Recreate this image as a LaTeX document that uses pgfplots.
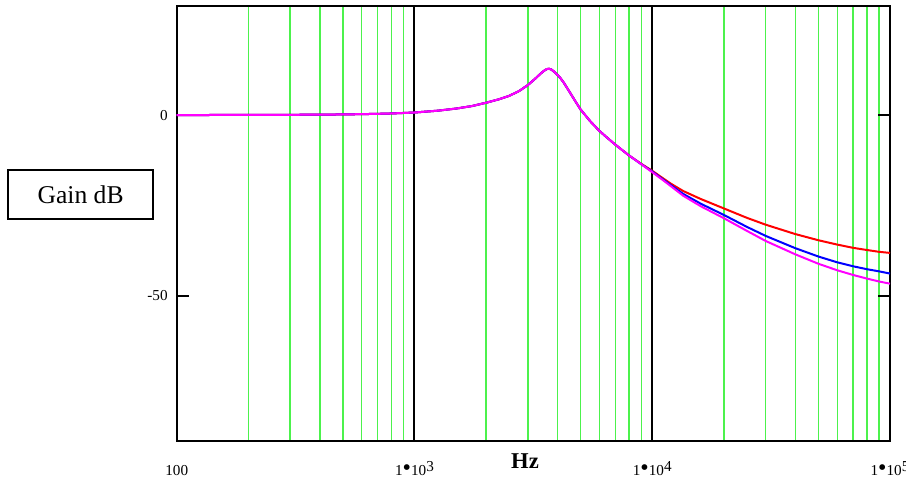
\documentclass[border=0pt]{standalone}
\usepackage{pgfplots}
\pgfplotsset{compat=1.18}
\usepackage{pgfplotstable}
\usepackage{fontspec}
\setmainfont{Liberation Serif}

\definecolor{gridgreen}{rgb}{0.3,0.95,0.3}
\definecolor{mag}{rgb}{1,0,1}

% f [Hz], gain [dB] for the three curves
\pgfplotstableread{
f      r      b      m
100    0      0      0
200    0.03   0.03   0.03
300    0.07   0.07   0.07
400    0.11   0.11   0.11
500    0.17   0.17   0.17
600    0.25   0.25   0.25
700    0.34   0.34   0.34
800    0.44   0.44   0.44
1000   0.7    0.7    0.7
1250   1.2    1.2    1.2
1500   1.8    1.8    1.8
1750   2.5    2.5    2.5
2000   3.4    3.4    3.4
2250   4.3    4.3    4.3
2500   5.3    5.3    5.3
2750   6.6    6.6    6.6
3000   8.3    8.3    8.3
3200   9.9    9.9    9.9
3400   11.5   11.5   11.5
3500   12.2   12.2   12.2
3600   12.7   12.7   12.7
3680   12.8   12.8   12.8
3760   12.6   12.6   12.6
3850   12.1   12.1   12.1
3950   11.4   11.4   11.4
4100   10.3   10.3   10.3
4250   8.9    8.9    8.9
4500   6.3    6.3    6.3
4750   3.8    3.8    3.8
5000   1.5    1.5    1.5
5500   -1.8   -1.8   -1.8
6000   -4.4   -4.4   -4.4
6500   -6.4   -6.4   -6.4
7000   -8.2   -8.2   -8.2
8000   -11.2  -11.2  -11.2
9000   -13.5  -13.6  -13.6
10000  -15.4  -15.6  -15.8
11000  -17.3  -17.6  -17.8
12000  -19.0  -19.4  -19.7
13500  -21.0  -21.8  -22.3
16000  -23.2  -24.5  -25.2
20000  -25.8  -27.6  -28.5
25000  -28.4  -30.9  -32.0
30000  -30.3  -33.4  -34.8
40000  -32.9  -36.8  -38.5
50000  -34.6  -39.1  -41.1
60000  -35.8  -40.7  -42.9
70000  -36.7  -41.8  -44.2
80000  -37.3  -42.6  -45.2
90000  -37.8  -43.2  -46.0
100000 -38.1  -43.8  -46.6
}\gain

\begin{document}
\begin{tikzpicture}
\begin{axis}[
    at={(0,0)}, anchor=south west,
    scale only axis,
    width=356.65pt, height=217.1pt,
    xmode=log, log basis x=10,
    xmin=100, xmax=100000,
    ymin=-90, ymax=30,
    xtick={100,1000,10000,100000},
    minor xtick={200,300,400,500,600,700,800,900,
                 2000,3000,4000,5000,6000,7000,8000,9000,
                 20000,30000,40000,50000,60000,70000,80000,90000},
    xticklabels={100,
        1{\large\textbullet}10\raisebox{0.6ex}{3},
        1{\large\textbullet}10\raisebox{0.6ex}{4},
        1{\large\textbullet}10\raisebox{0.6ex}{5}},
    ytick={-50,0},
    yticklabels={-50,0},
    xmajorgrids, xminorgrids,
    major x grid style={black, line width=1pt},
    minor x grid style={gridgreen, line width=0.7pt},
    x tick style={draw=none},
    minor x tick style={draw=none},
    y tick style={black, line width=0.8pt},
    major tick length=6pt,
    axis line style={line width=1pt},
    tick label style={font=\fontsize{7.6}{9}\selectfont},
    xticklabel style={anchor=base, yshift=-17.4pt},
    yticklabel style={xshift=-1pt},
]
\addplot[red, line width=1pt] table[x=f, y=r] {\gain};
\addplot[blue, line width=1pt] table[x=f, y=b] {\gain};
\addplot[mag, line width=1pt] table[x=f, y=m] {\gain};
\end{axis}
\node[draw, line width=0.8pt, minimum width=72.5pt, minimum height=24.5pt,
      font=\fontsize{12.8}{15}\selectfont]
  at ([shift={(-48.05pt,123.05pt)}]current axis.south west) {Gain dB};
\node[font=\bfseries\fontsize{11.3}{13}\selectfont]
  at ([shift={(174.15pt,-10pt)}]current axis.south west) {Hz};
\pgfresetboundingbox
\path[use as bounding box]
  ([shift={(-88.35pt,-20.15pt)}]current axis.south west) rectangle
  ([shift={(8pt,3.25pt)}]current axis.north east);
\end{tikzpicture}
\end{document}
